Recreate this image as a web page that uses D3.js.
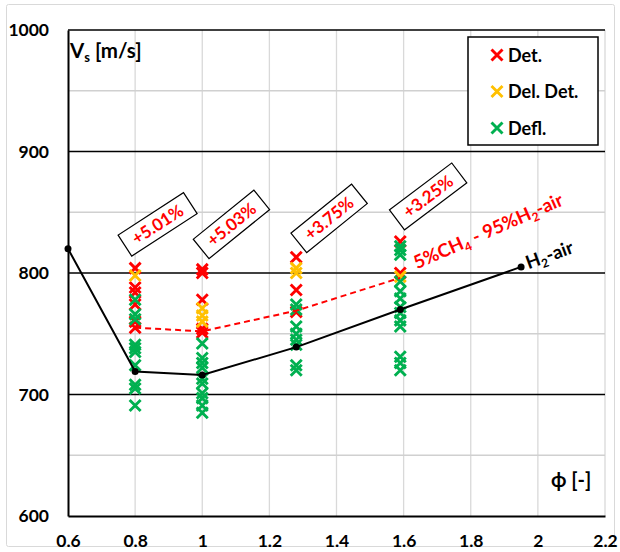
<!DOCTYPE html>
<html><head><meta charset="utf-8">
<script src="https://cdn.jsdelivr.net/npm/d3@7"></script>
<style>body{margin:0;background:#fff}svg{display:block;font-family:Lato,"Open Sans",sans-serif;font-weight:bold}</style>
</head><body><svg id="c" width="620" height="552"></svg>
<script>
// ---- data ----
const xTicks = [0.6, 0.8, 1, 1.2, 1.4, 1.6, 1.8, 2, 2.2];
const yTicks = [600, 700, 800, 900, 1000];
const yMinor = [650, 750, 850, 950];

const h2Phi = [0.6, 0.8, 1.0, 1.28, 1.59, 1.95];
const h2Vs  = [820, 719, 716, 739, 770, 805];
const mixPhi = [0.8, 1.0, 1.28, 1.59];
const mixVs  = [755, 752, 769, 796];

const detPhi = [0.8,0.8,0.8,0.8,0.8,0.8, 1,1,1,1,1, 1.28,1.28,1.28, 1.59,1.59];
const detVs  = [804,788,784,774,760,755, 803,800,778,754,751, 813,786,768, 826,800];
const delPhi = [0.8, 1,1,1, 1.28,1.28, 1.59];
const delVs  = [798, 771,765,760, 804,800, 797];
const deflPhi = [0.8,0.8,0.8,0.8,0.8,0.8,0.8,0.8,0.8,0.8,
                 1,1,1,1,1,1,1,1,1,1,
                 1.28,1.28,1.28,1.28,1.28,1.28,1.28,1.28,
                 1.59,1.59,1.59,1.59,1.59,1.59,1.59,1.59,1.59,1.59,1.59,1.59,1.59];
const deflVs  = [778,766,762,741,738,735,724,708,705,691,
                 742,730,726,722,713,709,701,697,691,685,
                 774,770,756,750,745,741,724,720,
                 822,819,815,793,785,779,772,767,761,756,731,726,720];

const seriesNames = ["Det.", "Del. Det.", "Defl."];
const annoText = ["+5.01%", "+5.03%", "+3.75%", "+3.25%"];
const annoPhi  = [0.867, 1.087, 1.378, 1.673];
const annoVs   = [840, 840, 845, 863];
const annoAng  = [-33, -39, -39, -37];

// ---- setup ----
const svg = d3.select("#c");
const x = d3.scaleLinear().domain([0.6, 2.2]).range([68, 605]);
const y = d3.scaleLinear().domain([600, 1000]).range([516, 30]);
const colors = ["#FF0000", "#FFC000", "#00B050"];

svg.append("rect").attr("x",6.5).attr("y",4.5).attr("width",608).attr("height",542)
  .attr("fill","none").attr("stroke","#d9d9d9").attr("rx",2);

// gridlines
svg.append("g").selectAll("line").data(xTicks.slice(1)).join("line")
  .attr("x1",d=>x(d)).attr("x2",d=>x(d)).attr("y1",y(1000)).attr("y2",y(600))
  .attr("stroke","#d9d9d9").attr("stroke-width",1.3);
svg.append("g").selectAll("line").data(yMinor).join("line")
  .attr("x1",x(0.6)).attr("x2",x(2.2)).attr("y1",d=>y(d)).attr("y2",d=>y(d))
  .attr("stroke","#d0d0d0").attr("stroke-width",1.3);
svg.append("g").selectAll("line").data(yTicks.slice(1)).join("line")
  .attr("x1",x(0.6)).attr("x2",x(2.2)).attr("y1",d=>y(d)).attr("y2",d=>y(d))
  .attr("stroke","#000").attr("stroke-width",1.5);

// axes
const ya = svg.append("g").attr("transform",`translate(${x(0.6)},0)`)
  .call(d3.axisLeft(y).tickValues(yTicks).tickSize(0).tickPadding(19).tickFormat(d3.format("d")));
ya.select(".domain").attr("stroke","#000").attr("stroke-width",2);
ya.selectAll("text").attr("font-size",17.5).attr("font-weight","bold").attr("font-family","Lato").attr("fill","#000");
const xa = svg.append("g").attr("transform",`translate(0,${y(600)})`)
  .call(d3.axisBottom(x).tickValues(xTicks).tickSize(0).tickPadding(19).tickFormat(d=>String(d)));
xa.select(".domain").attr("stroke","#000").attr("stroke-width",2.2);
xa.selectAll("text").attr("font-size",17.5).attr("font-weight","bold").attr("font-family","Lato").attr("fill","#000");

// axis titles
const yt = svg.append("text").attr("x",70).attr("y",58).attr("font-size",20.5).attr("fill","#000");
yt.append("tspan").text("V");
yt.append("tspan").attr("font-size",13).attr("dy",4).text("s");
yt.append("tspan").attr("dy",-4).text(" [m/s]");
svg.append("text").attr("x",551).attr("y",487).attr("font-size",20).attr("fill","#000").text("ϕ [-]");

// markers
const cross = s => `M${-s},${-s}L${s},${s}M${-s},${s}L${s},${-s}`;
const sets = [[detPhi,detVs],[delPhi,delVs],[deflPhi,deflVs]];
sets.forEach(([ph,vs],i)=>{
  svg.append("g").selectAll("path").data(d3.range(ph.length)).join("path")
    .attr("transform",k=>`translate(${x(ph[k])},${y(vs[k])})`)
    .attr("d",cross(5.5)).attr("stroke",colors[i]).attr("stroke-width",2.9).attr("fill","none");
});

// lines
const line = d3.line().x(d=>x(d[0])).y(d=>y(d[1]));
const h2 = h2Phi.map((p,i)=>[p,h2Vs[i]]);
const mix = mixPhi.map((p,i)=>[p,mixVs[i]]);
svg.append("path").attr("d",line(mix)).attr("fill","none").attr("stroke","#FF0000")
  .attr("stroke-width",2).attr("stroke-dasharray","6,4");
svg.append("path").attr("d",line(h2)).attr("fill","none").attr("stroke","#000").attr("stroke-width",2);
svg.append("g").selectAll("circle").data(h2).join("circle")
  .attr("cx",d=>x(d[0])).attr("cy",d=>y(d[1])).attr("r",3.5).attr("fill","#000");

// annotations
annoText.forEach((t,i)=>{
  const g = svg.append("g").attr("transform",`translate(${x(annoPhi[i])},${y(annoVs[i])}) rotate(${annoAng[i]})`);
  g.append("rect").attr("x",-39).attr("y",-12.5).attr("width",78).attr("height",25)
    .attr("fill","#fff").attr("stroke","#000").attr("stroke-width",1.2);
  g.append("text").attr("text-anchor","middle").attr("y",6).attr("font-size",17).attr("fill","#FF0000").text(t);
});

// series labels
const ml = svg.append("text").attr("transform",`translate(${x(1.64)},${y(803)}) rotate(-23.7)`)
  .attr("font-size",18.5).attr("fill","#FF0000");
ml.append("tspan").text("5%CH");
ml.append("tspan").attr("font-size",12).attr("dy",4).text("4");
ml.append("tspan").attr("dy",-4).text(" - 95%H");
ml.append("tspan").attr("font-size",12).attr("dy",4).text("2");
ml.append("tspan").attr("dy",-4).text("-air");
const hl = svg.append("text").attr("transform",`translate(${x(1.972)},${y(803)}) rotate(-20)`)
  .attr("font-size",18.5).attr("fill","#000");
hl.append("tspan").text("H");
hl.append("tspan").attr("font-size",12).attr("dy",4).text("2");
hl.append("tspan").attr("dy",-4).text("-air");

// legend
const lg = svg.append("g");
lg.append("rect").attr("x",468).attr("y",37).attr("width",130).attr("height",108)
  .attr("fill","#fff").attr("stroke","#000").attr("stroke-width",1.5);
seriesNames.forEach((n,i)=>{
  const cy = 55 + i*36.5;
  lg.append("path").attr("transform",`translate(497,${cy})`).attr("d",cross(5.5))
    .attr("stroke",colors[i]).attr("stroke-width",2.9).attr("fill","none");
  lg.append("text").attr("x",508).attr("y",cy+6.5).attr("font-size",18).attr("fill","#000").text(n);
});
</script></body></html>
